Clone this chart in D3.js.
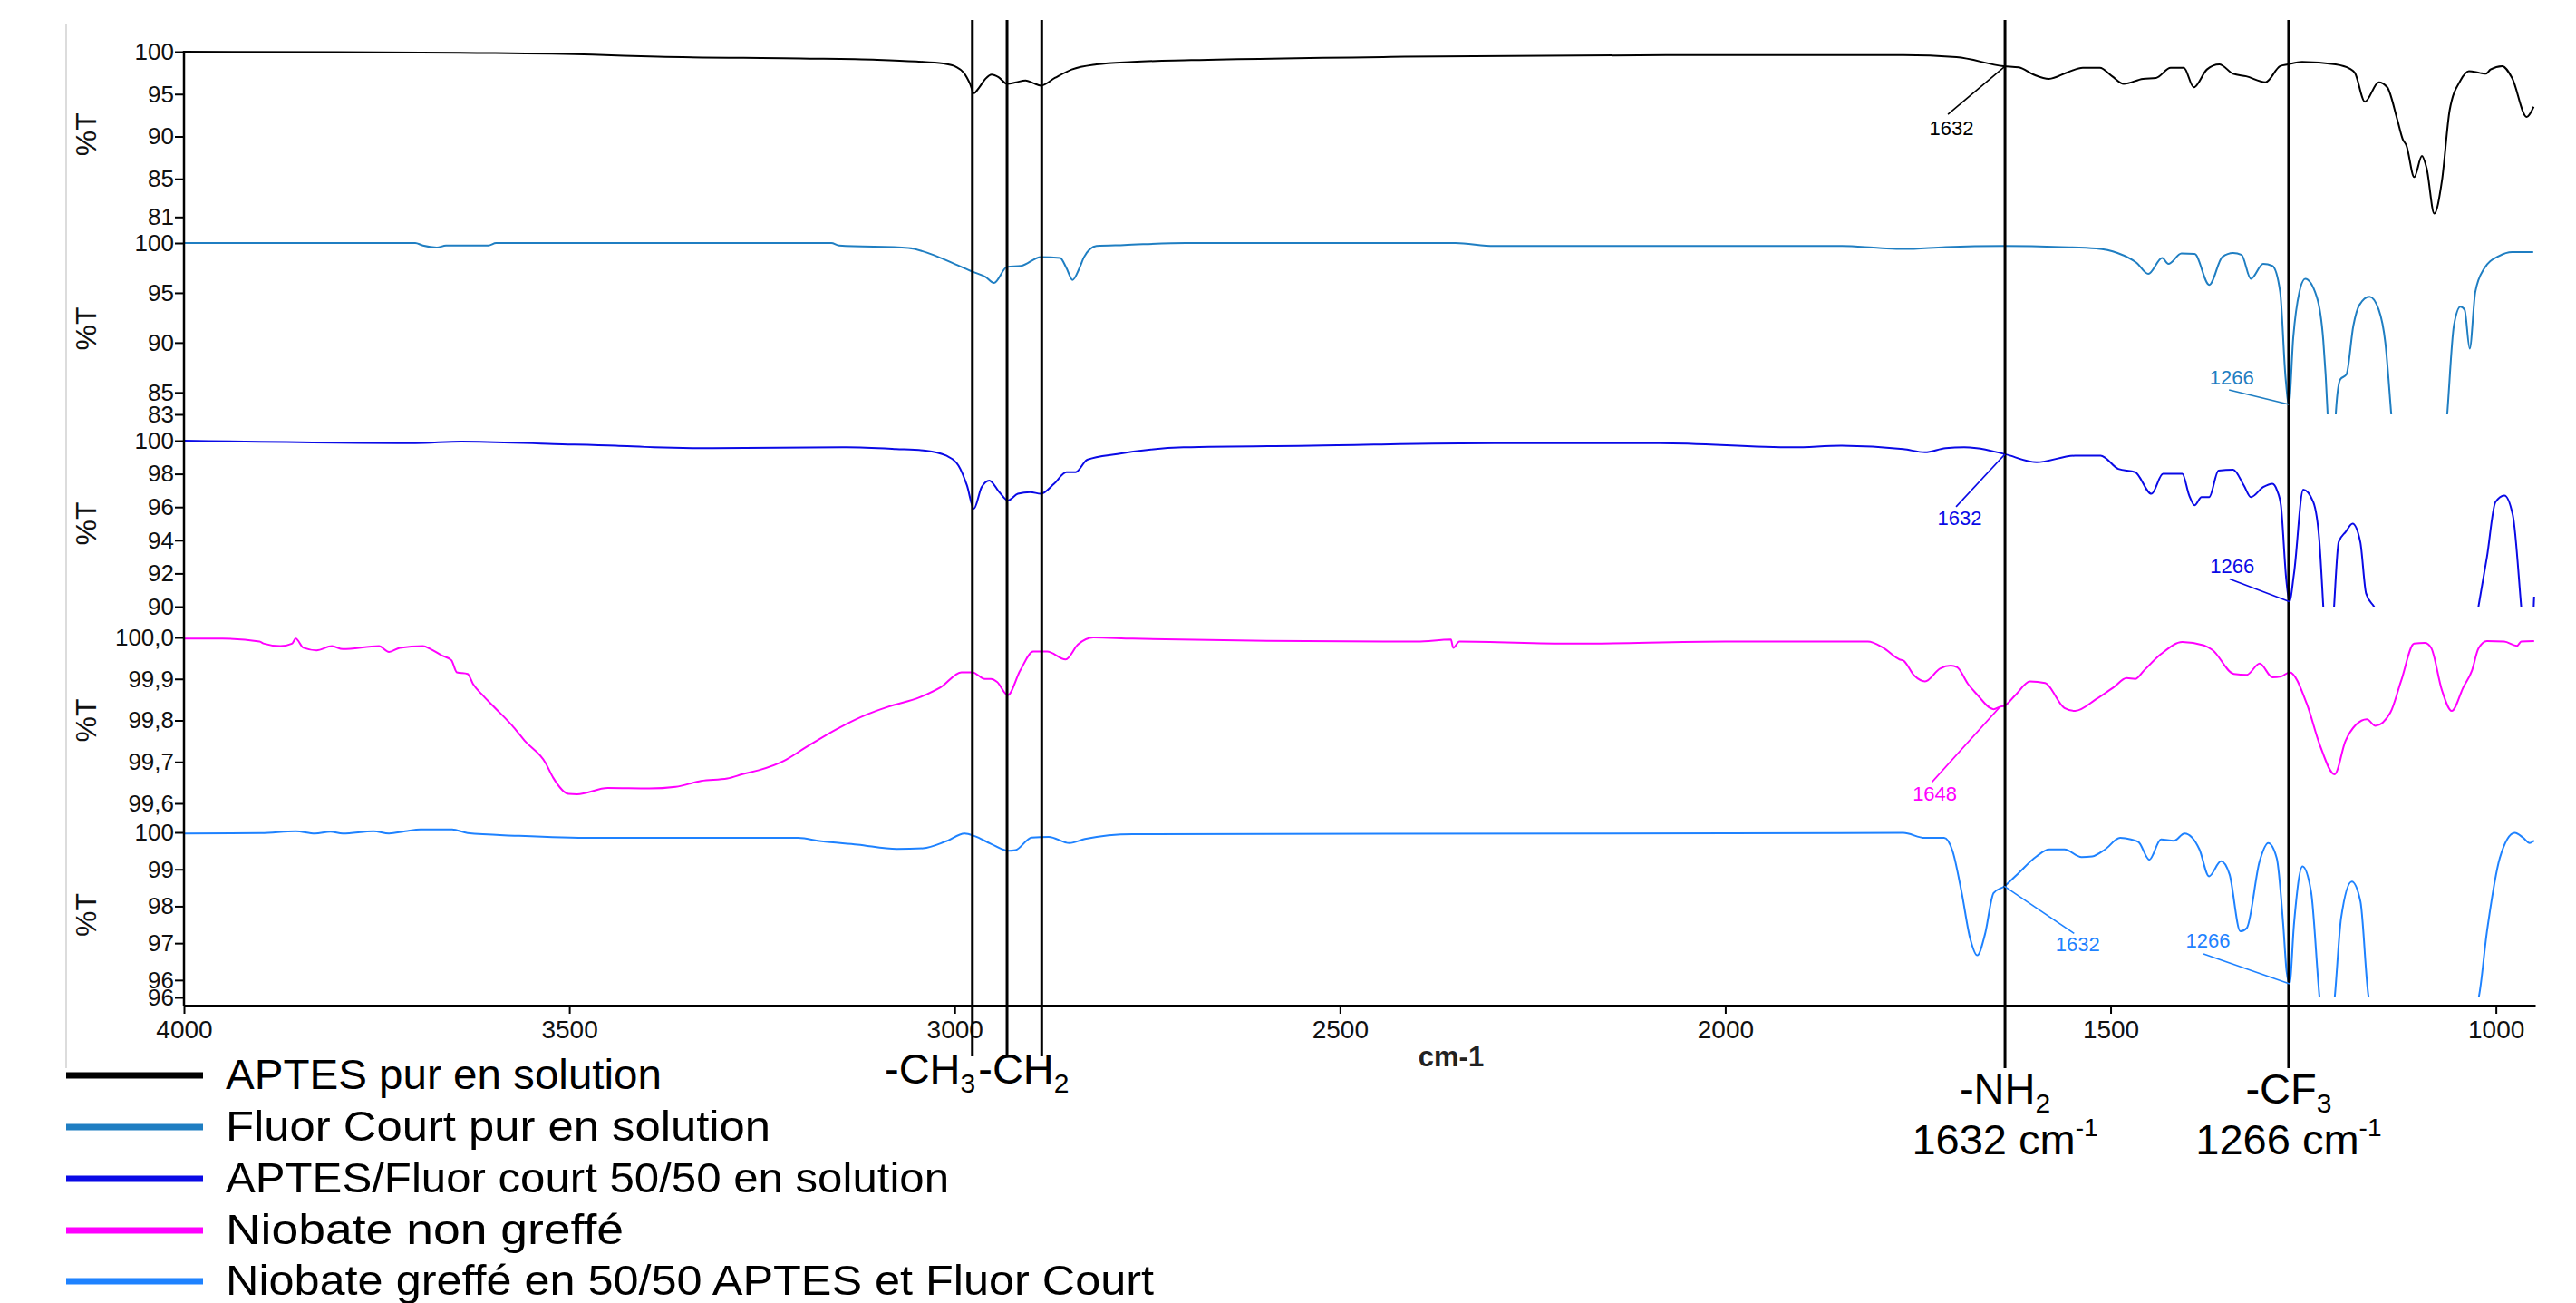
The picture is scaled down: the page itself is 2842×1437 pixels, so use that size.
<!DOCTYPE html>
<html>
<head>
<meta charset="utf-8">
<script src="https://cdn.jsdelivr.net/npm/d3@7"></script>
<style>
  body { margin: 0; background: #fff; }
  svg text { font-family: "Liberation Sans", Arial, sans-serif; }
</style>
</head>
<body>
<div id="chart"></div>
<script>
// ---- data (wavenumber cm-1, %T) ----
var wavenumberTicks = [4000, 3500, 3000, 2500, 2000, 1500, 1000];
var wavenumberDomain = [4000, 949];

var seriesNames = [
  "APTES pur en solution",
  "Fluor Court pur en solution",
  "APTES/Fluor court 50/50 en solution",
  "Niobate non greffé",
  "Niobate greffé en 50/50 APTES et Fluor Court"
];
var seriesColors = ["#000000", "#1f7ec2", "#0a0ae6", "#ff00ff", "#1e82ff"];

var aptesPur = [[4000,100],[3800,99.95],[3620,99.85],[3470,99.65],[3385,99.4],[3200,99.2],[3100,99.05],[3050,98.85],[3015,98.6],[2998,98.2],[2988,97.5],[2980,96.2],[2975,95.1],[2968,95.8],[2960,96.8],[2952,97.3],[2943,97.0],[2932,96.2],[2920,96.4],[2908,96.6],[2898,96.3],[2888,96.0],[2870,96.9],[2848,97.9],[2816,98.5],[2769,98.8],[2693,99.0],[2416,99.4],[2077,99.6],[1769,99.6],[1700,99.35],[1639,98.3],[1619,98.15],[1600,97.3],[1580,96.8],[1555,97.6],[1536,98.1],[1514,98.1],[1498,97.1],[1483,96.2],[1458,96.8],[1441,96.9],[1422,98.1],[1405,98.1],[1392,95.8],[1375,97.9],[1359,98.5],[1341,97.4],[1324,97.1],[1299,96.4],[1280,98.3],[1270,98.5],[1252,98.8],[1208,98.5],[1190,98.0],[1183,97.5],[1170,94.1],[1152,96.4],[1141,95.8],[1128,92],[1121,89.7],[1116,88.9],[1106,85.2],[1096,87.7],[1090,86.3],[1080,80.9],[1070,84.8],[1060,93.1],[1046,96.6],[1035,97.7],[1021,97.5],[1013,97.4],[1007,97.9],[992,98.3],[979,96.9],[960,92.3],[951,93.5]];

var fluorCourt = [[4000,100],[3700,100],[3690,99.75],[3672,99.55],[3660,99.75],[3605,99.75],[3595,100],[3160,100],[3150,99.75],[3060,99.5],[3031,98.9],[3000,97.9],[2976,97.1],[2960,96.6],[2949,96.0],[2932,97.6],[2914,97.7],[2888,98.6],[2863,98.5],[2855,97.5],[2847,96.3],[2838,97.5],[2832,98.6],[2816,99.7],[2780,99.8],[2700,100],[2350,100],[2300,99.7],[1850,99.7],[1800,99.5],[1769,99.4],[1714,99.6],[1639,99.7],[1564,99.6],[1519,99.45],[1491,99.0],[1466,98.0],[1451,96.9],[1433,98.5],[1425,97.9],[1408,98.95],[1391,98.9],[1372,95.8],[1355,98.6],[1341,99.0],[1330,98.8],[1318,96.4],[1302,97.9],[1290,97.7],[1280,95.1],[1273,86.5],[1268.7,83.8],[1263,90.5],[1255,95.1],[1247.5,96.4],[1232.5,94.6],[1224,90.2],[1218.6,83.2],[1213,70],[1207.5,83.2],[1202,86.3],[1194,86.8],[1185,91.7],[1177,93.8],[1164,94.6],[1152,93.3],[1143.5,90.0],[1136,83.0],[1100,45],[1063,83.0],[1054.5,91.7],[1046,93.6],[1040.6,93.3],[1034,89.4],[1026.7,95.1],[1015.5,97.4],[996,98.7],[979,99.1],[951.6,99.1]];

var aptesFluor = [[4000,100],[3700,99.85],[3640,99.95],[3520,99.8],[3440,99.7],[3390,99.6],[3320,99.55],[3140,99.6],[3076,99.5],[3038,99.4],[3011,99.1],[2995,98.5],[2984,97.3],[2975,95.9],[2965,97.2],[2955,97.6],[2942,96.9],[2931,96.4],[2918,96.8],[2902,96.9],[2888,96.8],[2871,97.4],[2855,98.1],[2843,98.1],[2828,98.85],[2789,99.2],[2703,99.6],[2537,99.7],[2300,99.85],[2085,99.85],[1912,99.6],[1850,99.7],[1769,99.5],[1741,99.3],[1714,99.55],[1690,99.6],[1674,99.55],[1638,99.2],[1596,98.7],[1546,99.1],[1513,99.1],[1490,98.3],[1468,98.1],[1447,96.8],[1432,98.0],[1407,98.0],[1398,96.7],[1391,96.1],[1382,96.6],[1372,96.6],[1360,98.2],[1341,98.25],[1327,97.3],[1318,96.6],[1302,97.2],[1290,97.4],[1284,97.0],[1279,96.1],[1272,91.6],[1268,90.3],[1262,92.0],[1250,97.05],[1237,96.3],[1229,93.9],[1224,90],[1217,84],[1210,90],[1204,93.9],[1195,94.5],[1186,95.0],[1176,93.9],[1168.5,90.8],[1157,89.9],[1090,75],[1023,89.9],[1011.6,93.0],[1000.6,96.3],[989,96.7],[978,95.5],[967,89.9],[958,85],[950.4,90.6]];

var niobateNonGreffe = [[4000,99.997],[3950,99.997],[3902,99.99],[3896,99.985],[3875,99.979],[3860,99.985],[3855,99.997],[3845,99.975],[3828,99.969],[3808,99.979],[3794,99.972],[3747,99.979],[3734,99.965],[3720,99.975],[3690,99.979],[3680,99.972],[3666,99.957],[3653,99.945],[3646,99.916],[3632,99.912],[3625,99.888],[3612,99.86],[3599,99.835],[3572,99.783],[3558,99.751],[3531,99.698],[3521,99.662],[3501,99.623],[3490,99.622],[3450,99.637],[3396,99.636],[3362,99.64],[3329,99.654],[3295,99.66],[3274,99.671],[3254,99.68],[3221,99.703],[3194,99.734],[3153,99.779],[3113,99.815],[3086,99.833],[3045,99.856],[3018,99.88],[2991,99.916],[2977,99.916],[2961,99.90],[2953,99.90],[2945,99.893],[2931,99.861],[2915,99.92],[2898,99.966],[2880,99.966],[2856,99.947],[2840,99.983],[2820,100.0],[2769,99.997],[2400,99.99],[2356,99.995],[2353,99.975],[2345,99.99],[2200,99.985],[2000,99.99],[1815,99.99],[1795,99.975],[1774,99.947],[1768.7,99.944],[1754.8,99.908],[1740.8,99.894],[1721.4,99.925],[1707.4,99.932],[1699.1,99.928],[1685.1,99.888],[1674,99.864],[1651.8,99.827],[1643.4,99.833],[1637.9,99.835],[1624,99.86],[1604.5,99.894],[1585,99.89],[1559.9,99.83],[1546,99.823],[1518.1,99.852],[1495.9,99.88],[1479.2,99.902],[1468,99.90],[1456.9,99.92],[1434.6,99.96],[1406.8,99.989],[1378.9,99.981],[1367.9,99.97],[1340,99.912],[1323.3,99.91],[1306.6,99.937],[1289.9,99.904],[1278.8,99.906],[1267.7,99.916],[1245.4,99.84],[1228.7,99.742],[1209.3,99.67],[1195.3,99.75],[1181.4,99.79],[1167.5,99.803],[1156.3,99.787],[1136.9,99.819],[1122.9,99.896],[1106.2,99.985],[1092.3,99.987],[1084,99.975],[1070.1,99.873],[1057.3,99.823],[1042.2,99.88],[1031.1,99.92],[1022.7,99.973],[1011.6,99.991],[989.3,99.99],[972.6,99.98],[967.1,99.99],[950.4,99.991]];

var niobateGreffe = [[4000,99.97],[3900,99.98],[3855,100.03],[3830,99.97],[3810,100.02],[3794,99.97],[3754,100.03],[3734,99.97],[3713,100.03],[3693,100.08],[3652,100.08],[3632,99.98],[3568,99.91],[3470,99.85],[3203,99.85],[3173,99.76],[3126,99.67],[3075,99.55],[3041,99.57],[3011,99.76],[2987,99.97],[2974,99.9],[2953,99.69],[2930,99.5],[2921,99.52],[2900,99.86],[2878,99.88],[2851,99.71],[2831,99.82],[2769,99.95],[1769,99.985],[1741,99.85],[1716,99.85],[1705,99.49],[1693.5,98.4],[1682.4,97.14],[1673,96.67],[1663,97.24],[1651.8,98.36],[1637.9,98.54],[1621.3,98.86],[1596.2,99.35],[1579.5,99.54],[1559.9,99.54],[1537.6,99.33],[1523.8,99.35],[1507.1,99.54],[1487.6,99.85],[1473.6,99.81],[1463.7,99.74],[1449.7,99.26],[1434.6,99.81],[1417.9,99.77],[1404,99.97],[1384.7,99.54],[1372.3,98.81],[1356.7,99.22],[1345.6,98.86],[1331.7,97.32],[1323.3,97.41],[1306.6,99.22],[1295.5,99.71],[1284.4,99.3],[1276,97.5],[1271.6,96.23],[1267.7,95.9],[1262.1,97.5],[1251,99.08],[1239.9,98.4],[1228.7,95.5],[1219,94],[1209.3,95.5],[1200.9,97.68],[1187,98.67],[1175.8,98.13],[1164.7,95.5],[1090,93],[1022.7,95.5],[1011.6,97.32],[995,99.3],[975.5,99.985],[964.4,99.85],[956.1,99.71],[950.4,99.78]];

var seriesData = [aptesPur, fluorCourt, aptesFluor, niobateNonGreffe, niobateGreffe];

var panelDomains = [[80.5, 100], [82.8, 100], [90, 100], [99.6, 100], [95.53, 100]];
var panelTickValues = [
  [100, 95, 90, 85, 80.5],
  [100, 95, 90, 85, 82.8],
  [100, 98, 96, 94, 92, 90],
  [100, 99.9, 99.8, 99.7, 99.6],
  [100, 99, 98, 97, 96, 95.53]
];
var panelTickLabels = [
  ["100", "95", "90", "85", "81"],
  ["100", "95", "90", "85", "83"],
  ["100", "98", "96", "94", "92", "90"],
  ["100,0", "99,9", "99,8", "99,7", "99,6"],
  ["100", "99", "98", "97", "96", "96"]
];

// band marker lines (cm-1)
var chLines = [2977, 2932, 2887];
var groupLines = [1637, 1269];

// peak annotations: panel, anchor wavenumber, text
var peakLabels = [
  {panel: 0, wn: 1637, text: "1632"},
  {panel: 1, wn: 1268.7, text: "1266"},
  {panel: 2, wn: 1637, text: "1632"},
  {panel: 2, wn: 1268, text: "1266"},
  {panel: 3, wn: 1643.4, text: "1648"},
  {panel: 4, wn: 1637.9, text: "1632"},
  {panel: 4, wn: 1267.7, text: "1266"}
];

// ---- layout ----
var W = 2842, H = 1437;
var plotLeft = 203, plotRight = 2797, axisY = 1109;
var panelRanges = [[239.3, 57], [457, 268], [669, 486], [886, 703], [1100, 918]];
// label offsets from anchor: leader start (lx, ly) and text centre/baseline (tx, ty)
var peakOffsets = [
  {lx: -63, ly: 53, tx: -59, ty: 76},
  {lx: -66, ly: -16, tx: -63, ty: -22},
  {lx: -54, ly: 58, tx: -50, ty: 78},
  {lx: -66, ly: -25, tx: -63, ty: -32},
  {lx: -75, ly: 83, tx: -72, ty: 104},
  {lx: 77, ly: 52, tx: 81, ty: 72},
  {lx: -95, ly: -33, tx: -90, ty: -40}
];
var legendRowY = [1186, 1243, 1300, 1357, 1413];
var legendTextWidth = [481, 601, 798, 439, 1024];

var svg = d3.select("#chart").append("svg")
    .attr("width", W)
    .attr("height", H)
    .style("display", "block");

svg.append("rect").attr("width", W).attr("height", H).attr("fill", "#fff");

// faint frame line on the left
svg.append("line")
    .attr("x1", 73).attr("x2", 73)
    .attr("y1", 27).attr("y2", 1178)
    .attr("stroke", "#dcdcdc")
    .attr("stroke-width", 2);

var x = d3.scaleLinear().domain(wavenumberDomain).range([plotLeft, plotRight]);

function valueAt(data, wn) {
  for (var i = 0; i < data.length - 1; i++) {
    var a = data[i], b = data[i + 1];
    if (wn <= a[0] && wn >= b[0]) {
      var t = (a[0] - wn) / (a[0] - b[0]);
      return a[1] + t * (b[1] - a[1]);
    }
  }
  return data[data.length - 1][1];
}

var defs = svg.append("defs");
var yScales = [];

seriesData.forEach(function (data, i) {
  var y = d3.scaleLinear().domain(panelDomains[i]).range(panelRanges[i]);
  yScales.push(y);

  defs.append("clipPath").attr("id", "clip" + i)
    .append("rect")
    .attr("x", plotLeft)
    .attr("y", panelRanges[i][1] - 20)
    .attr("width", plotRight - plotLeft)
    .attr("height", panelRanges[i][0] - panelRanges[i][1] + 20);

  var line = d3.line()
      .x(function (d) { return x(d[0]); })
      .y(function (d) { return y(d[1]); })
      .curve(d3.curveMonotoneX);

  svg.append("path")
      .datum(data)
      .attr("clip-path", "url(#clip" + i + ")")
      .attr("fill", "none")
      .attr("stroke", seriesColors[i])
      .attr("stroke-width", 2)
      .attr("stroke-linejoin", "round")
      .attr("d", line);

  // y axis for the panel
  var labels = panelTickLabels[i];
  var ax = svg.append("g")
      .attr("class", "yaxis")
      .attr("transform", "translate(" + plotLeft + ",0)")
      .call(d3.axisLeft(y)
        .tickValues(panelTickValues[i])
        .tickFormat(function (d, j) { return labels[j]; })
        .tickSize(10)
        .tickSizeOuter(0)
        .tickPadding(1));
  ax.select(".domain").remove();
  ax.selectAll(".tick line").attr("stroke", "#000").attr("stroke-width", 2);
  ax.selectAll(".tick text")
      .attr("font-size", 26)
      .attr("fill", "#111")
      .style("font-family", "'Liberation Sans', Arial, sans-serif");

  // %T label
  svg.append("text")
      .attr("transform", "translate(106," + ((panelRanges[i][0] + panelRanges[i][1]) / 2) + ") rotate(-90)")
      .attr("text-anchor", "middle")
      .attr("font-size", 32)
      .attr("fill", "#111")
      .text("%T");
});

// continuous left axis line
svg.append("line")
    .attr("x1", plotLeft).attr("x2", plotLeft)
    .attr("y1", panelRanges[0][1] - 1).attr("y2", axisY)
    .attr("stroke", "#000")
    .attr("stroke-width", 2.5);

// x axis
var xa = svg.append("g")
    .attr("transform", "translate(0," + axisY + ")")
    .call(d3.axisBottom(x)
      .tickValues(wavenumberTicks)
      .tickFormat(d3.format("d"))
      .tickSize(9)
      .tickSizeOuter(0)
      .tickPadding(7));
xa.select(".domain").attr("stroke", "#000").attr("stroke-width", 3);
xa.selectAll(".tick line").attr("stroke", "#000").attr("stroke-width", 2);
xa.selectAll(".tick text")
    .attr("font-size", 28)
    .attr("fill", "#111")
    .style("font-family", "'Liberation Sans', Arial, sans-serif");

svg.append("text")
    .attr("x", 1601).attr("y", 1176)
    .attr("text-anchor", "middle")
    .attr("font-size", 31)
    .attr("font-weight", "bold")
    .attr("fill", "#222")
    .text("cm-1");

// band marker lines
chLines.forEach(function (wn) {
  svg.append("line")
      .attr("x1", x(wn)).attr("x2", x(wn))
      .attr("y1", 22).attr("y2", 1165)
      .attr("stroke", "#000").attr("stroke-width", 3);
});
groupLines.forEach(function (wn) {
  svg.append("line")
      .attr("x1", x(wn)).attr("x2", x(wn))
      .attr("y1", 22).attr("y2", 1178)
      .attr("stroke", "#000").attr("stroke-width", 3);
});

// peak labels with leader lines
peakLabels.forEach(function (p, k) {
  var y = yScales[p.panel];
  var ax0 = x(p.wn), ay0 = y(valueAt(seriesData[p.panel], p.wn));
  var o = peakOffsets[k];
  svg.append("line")
      .attr("x1", ax0 + o.lx).attr("y1", ay0 + o.ly)
      .attr("x2", ax0).attr("y2", ay0)
      .attr("stroke", seriesColors[p.panel])
      .attr("stroke-width", 1.6);
  svg.append("text")
      .attr("x", ax0 + o.tx).attr("y", ay0 + o.ty)
      .attr("text-anchor", "middle")
      .attr("font-size", 22)
      .attr("fill", seriesColors[p.panel])
      .text(p.text);
});

// group annotations below the axis
var bigFont = 47, subFont = 30;
var ch = svg.append("text")
    .attr("x", 976).attr("y", 1195)
    .attr("font-size", bigFont)
    .attr("fill", "#000");
ch.append("tspan").text("-CH");
ch.append("tspan").attr("font-size", subFont).attr("dy", 10).text("3");
ch.append("tspan").attr("dy", -10).attr("dx", 3).text("-CH");
ch.append("tspan").attr("font-size", subFont).attr("dy", 10).text("2");

function groupLabel(wn, name, sub, number) {
  var t = svg.append("text")
      .attr("x", x(wn)).attr("y", 1217)
      .attr("text-anchor", "middle")
      .attr("font-size", bigFont)
      .attr("fill", "#000");
  t.append("tspan").text(name);
  t.append("tspan").attr("font-size", subFont).attr("dy", 10).text(sub);

  var n = svg.append("text")
      .attr("x", x(wn)).attr("y", 1273)
      .attr("text-anchor", "middle")
      .attr("font-size", bigFont)
      .attr("fill", "#000");
  n.append("tspan").text(number + " cm");
  n.append("tspan").attr("font-size", 28).attr("dy", -20).text("-1");
}
groupLabel(groupLines[0], "-NH", "2", "1632");
groupLabel(groupLines[1], "-CF", "3", "1266");

// legend
seriesNames.forEach(function (name, i) {
  svg.append("line")
      .attr("x1", 73).attr("x2", 224)
      .attr("y1", legendRowY[i]).attr("y2", legendRowY[i])
      .attr("stroke", seriesColors[i])
      .attr("stroke-width", 7);
  svg.append("text")
      .attr("x", 249).attr("y", legendRowY[i] + 15)
      .attr("font-size", bigFont)
      .attr("textLength", legendTextWidth[i])
      .attr("lengthAdjust", "spacingAndGlyphs")
      .attr("fill", "#000")
      .text(name);
});
</script>
</body>
</html>
